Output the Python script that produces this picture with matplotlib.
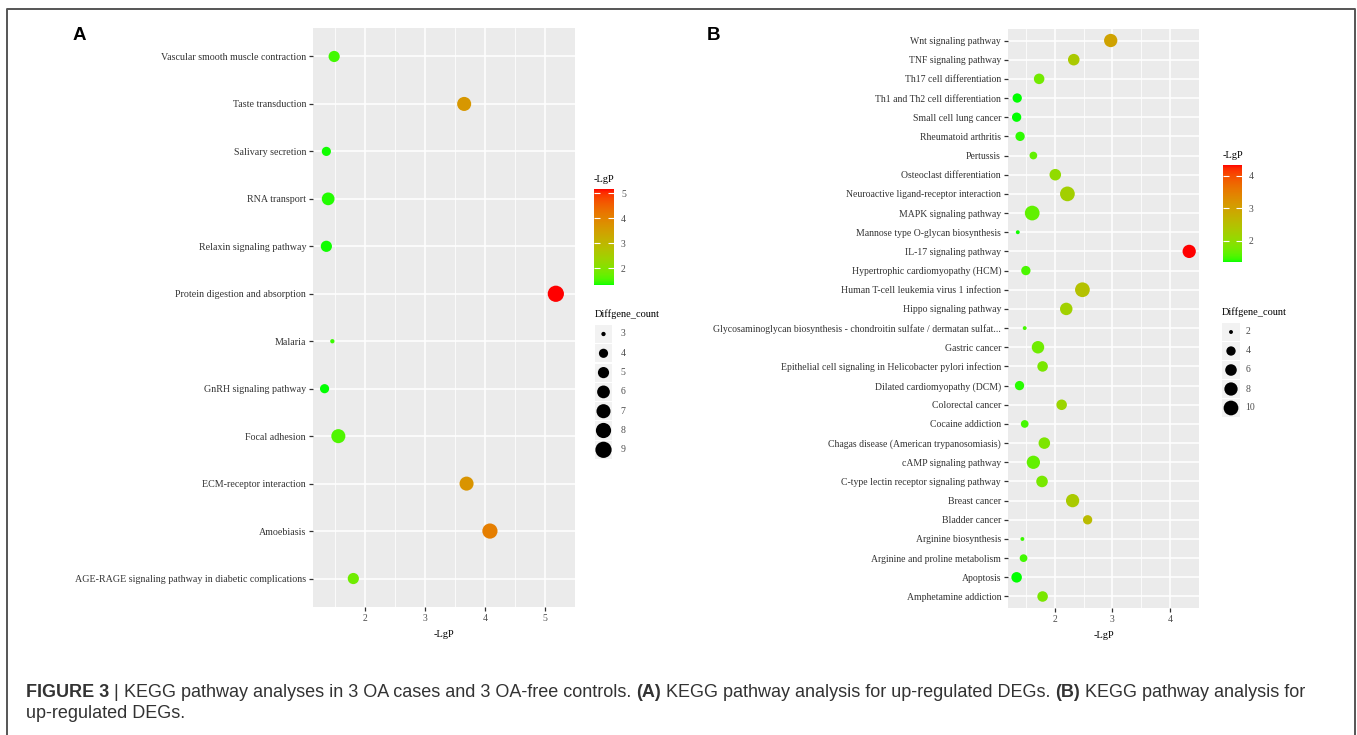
import numpy as np
import matplotlib
matplotlib.use("Agg")
import matplotlib.pyplot as plt
from matplotlib.colors import ListedColormap, Normalize
from matplotlib.patches import Rectangle
from matplotlib.lines import Line2D
import matplotlib.cm as cm

# panel A
pathways_a = ["Vascular smooth muscle contraction", "Taste transduction", "Salivary secretion",
              "RNA transport", "Relaxin signaling pathway", "Protein digestion and absorption",
              "Malaria", "GnRH signaling pathway", "Focal adhesion", "ECM-receptor interaction",
              "Amoebiasis", "AGE-RAGE signaling pathway in diabetic complications"]
lgp_a = [1.48, 3.65, 1.35, 1.38, 1.35, 5.18, 1.45, 1.32, 1.55, 3.69, 4.08, 1.80]
count_a = [5, 7, 4, 6, 5, 9, 3, 4, 7, 7, 8, 5]
xticks_a = [2, 3, 4, 5]
size_breaks_a = [3, 4, 5, 6, 7, 8, 9]

# panel B
pathways_b = ["Wnt signaling pathway", "TNF signaling pathway", "Th17 cell differentiation",
              "Th1 and Th2 cell differentiation", "Small cell lung cancer", "Rheumatoid arthritis",
              "Pertussis", "Osteoclast differentiation", "Neuroactive ligand-receptor interaction",
              "MAPK signaling pathway", "Mannose type O-glycan biosynthesis", "IL-17 signaling pathway",
              "Hypertrophic cardiomyopathy (HCM)", "Human T-cell leukemia virus 1 infection",
              "Hippo signaling pathway",
              "Glycosaminoglycan biosynthesis - chondroitin sulfate / dermatan sulfat...",
              "Gastric cancer", "Epithelial cell signaling in Helicobacter pylori infection",
              "Dilated cardiomyopathy (DCM)", "Colorectal cancer", "Cocaine addiction",
              "Chagas disease (American trypanosomiasis)", "cAMP signaling pathway",
              "C-type lectin receptor signaling pathway", "Breast cancer", "Bladder cancer",
              "Arginine biosynthesis", "Arginine and proline metabolism", "Apoptosis",
              "Amphetamine addiction"]
lgp_b = [2.97, 2.33, 1.73, 1.35, 1.34, 1.40, 1.63, 2.01, 2.22, 1.61, 1.36, 4.33, 1.50, 2.48, 2.20,
         1.48, 1.71, 1.79, 1.39, 2.12, 1.48, 1.82, 1.63, 1.78, 2.31, 2.57, 1.44, 1.46, 1.34, 1.79]
count_b = [8, 6, 5, 4, 4, 4, 3, 6, 10, 10, 2, 8, 4, 10, 7,
           2, 7, 5, 4, 5, 3, 6, 8, 6, 8, 4, 2, 3, 5, 5]
xticks_b = [2, 3, 4]
size_breaks_b = [2, 4, 6, 8, 10]

caption_parts = [("FIGURE 3", "bold"), (" | ", "normal"),
                 ("KEGG pathway analyses in 3 OA cases and 3 OA-free controls. ", "normal"),
                 ("(A)", "bold"), (" KEGG pathway analysis for up-regulated DEGs. ", "normal"),
                 ("(B)", "bold"), (" KEGG pathway analysis for", "normal")]
caption_line2 = "up-regulated DEGs."

W, H = 1357, 735
SERIF = "Liberation Serif"
SANS = "Liberation Sans"

# green -> red gradient interpolated in CIELAB (like ggplot)
M = np.array([[0.4124, 0.3576, 0.1805], [0.2126, 0.7152, 0.0722], [0.0193, 0.1192, 0.9505]])
WHITE = np.array([0.95047, 1.0, 1.08883])


def to_lab(rgb):
    c = np.asarray(rgb, float)
    lin = np.where(c <= 0.04045, c / 12.92, ((c + 0.055) / 1.055) ** 2.4)
    xyz = M @ lin / WHITE
    f = np.where(xyz > (6 / 29) ** 3, np.cbrt(xyz), xyz / (3 * (6 / 29) ** 2) + 4 / 29)
    return np.array([116 * f[1] - 16, 500 * (f[0] - f[1]), 200 * (f[1] - f[2])])


def to_rgb(lab):
    L, a, b = lab.T
    fy = (L + 16) / 116
    f = np.stack([fy + a / 500, fy, fy - b / 200], 1)
    xyz = np.where(f > 6 / 29, f ** 3, 3 * (6 / 29) ** 2 * (f - 4 / 29)) * WHITE
    lin = np.clip(xyz @ np.linalg.inv(M).T, 0, 1)
    c = np.where(lin <= 0.0031308, 12.92 * lin, 1.055 * lin ** (1 / 2.4) - 0.055)
    return np.clip(c, 0, 1)


t = np.linspace(0, 1, 256)[:, None]
lab_ramp = to_lab([0, 1, 0]) * (1 - t) + to_lab([1, 0, 0]) * t
cmap = ListedColormap(to_rgb(lab_ramp))

fig = plt.figure(figsize=(W / 100, H / 100), dpi=100)


def fbox(x0, y0, x1, y1):
    return [x0 / W, 1 - y1 / H, (x1 - x0) / W, (y1 - y0) / H]


def gg_size(c, lo, hi):
    # ggplot area scale (range 1..6) plus the point stroke
    return 1 + 5 * np.sqrt((np.asarray(c, float) - lo) / (hi - lo)) + 0.8


def panel(box, names, lgp, counts, xticks, breaks, k, lab_fs):
    ax = fig.add_axes(fbox(*box))
    n = len(names)
    y = np.arange(n)
    lo, hi = min(lgp), max(lgp)
    pad = (hi - lo) * 0.05
    ax.set_xlim(lo - pad, hi + pad)
    ax.set_ylim(n - 1 + 0.6, -0.6)
    ax.set_facecolor("#EBEBEB")
    for s in ax.spines.values():
        s.set_visible(False)
    ax.set_xticks(xticks)
    ax.set_xticks([v + 0.5 for v in [xticks[0] - 1] + xticks], minor=True)
    ax.set_yticks(y)
    ax.set_yticklabels(names, fontfamily=SERIF, fontsize=lab_fs, color="#333333")
    ax.grid(True, which="major", color="white", lw=1.1)
    ax.grid(True, which="minor", axis="x", color="white", lw=0.55)
    ax.set_axisbelow(True)
    ax.tick_params(which="major", length=3, width=0.9, color="#333333", pad=2)
    ax.tick_params(which="minor", length=0)
    for lab in ax.get_xticklabels():
        lab.set_fontfamily(SERIF)
        lab.set_fontsize(7)
        lab.set_color("#4D4D4D")
    ax.set_xlabel("-LgP", fontfamily=SERIF, fontsize=7.5, labelpad=5)
    norm = Normalize(lo, hi)
    d = gg_size(counts, breaks[0], breaks[-1]) * k
    ax.scatter(lgp, y, s=d ** 2, c=lgp, cmap=cmap, norm=norm, linewidths=0, zorder=3)
    return norm


def colorbar(box, norm, ticks):
    cax = fig.add_axes(fbox(*box))
    cb = fig.colorbar(cm.ScalarMappable(norm=norm, cmap=cmap), cax=cax)
    cb.outline.set_visible(False)
    cb.set_ticks(ticks)
    cax.tick_params(direction="in", left=True, right=True, color="white", length=4,
                    width=0.8, pad=5, labelsize=7, labelcolor="#4D4D4D")
    for lab in cax.get_yticklabels():
        lab.set_fontfamily(SERIF)
    fig.text(box[0] / W, 1 - (box[1] - 10) / H, "-LgP", fontfamily=SERIF, fontsize=7.5,
             va="center", ha="left")


def size_legend(x0, y_first, row_h, key_w, breaks, k, label_dx):
    n = len(breaks)
    top = y_first - row_h / 2
    lax = fig.add_axes(fbox(x0, top, x0 + key_w, top + n * row_h))
    lax.set_xlim(0, 1)
    lax.set_ylim(n - 0.5, -0.5)
    lax.axis("off")
    for i in range(n):
        lax.add_patch(Rectangle((0, i - 0.47), 1, 0.94, color="#F2F2F2", lw=0))
        lax.text(label_dx, i, str(breaks[i]), fontfamily=SERIF, fontsize=7, color="#4D4D4D",
                 va="center", ha="left")
    d = gg_size(breaks, breaks[0], breaks[-1]) * k
    lax.scatter([0.5] * n, range(n), s=d ** 2, c="black", linewidths=0, zorder=3)
    fig.text(x0 / W, 1 - (top - 10) / H, "Diffgene_count", fontfamily=SERIF, fontsize=7.5,
             va="center", ha="left")


norm_a = panel((313, 28, 575, 607), pathways_a, lgp_a, count_a, xticks_a, size_breaks_a, 1.72, 7.2)
colorbar((594, 189, 614, 285), norm_a, [2, 3, 4, 5])
size_legend(595, 334, 19.3, 17, size_breaks_a, 1.72, 1.5)

norm_b = panel((1008, 29, 1199, 608), pathways_b, lgp_b, count_b, xticks_b, size_breaks_b, 1.56, 7.0)
colorbar((1223, 165, 1242, 262), norm_b, [2, 3, 4])
size_legend(1222, 332, 19, 18, size_breaks_b, 1.56, 1.3)

fig.text(73 / W, 1 - 35 / H, "A", fontfamily=SANS, fontsize=13.5, fontweight="bold", va="center")
fig.text(707 / W, 1 - 35 / H, "B", fontfamily=SANS, fontsize=13.5, fontweight="bold", va="center")

# frame around the figure (open at the bottom)
fig.add_artist(Line2D([7 / W, 7 / W, 1355 / W, 1355 / W], [0, 1 - 9 / H, 1 - 9 / H, 0],
                      transform=fig.transFigure, color="#555555", lw=1.4))

# caption with bold parts
renderer = fig.canvas.get_renderer()
x = 26
for txt, wt in caption_parts:
    tt = fig.text(x / W, 1 - 697 / H, txt, fontfamily=SANS, fontsize=13.0, fontweight=wt,
                  color="#333333", va="baseline", ha="left")
    x = tt.get_window_extent(renderer).x1
fig.text(26 / W, 1 - 718 / H, caption_line2, fontfamily=SANS, fontsize=13.0, color="#333333",
         va="baseline", ha="left")

fig.savefig("out.png", dpi=100)
